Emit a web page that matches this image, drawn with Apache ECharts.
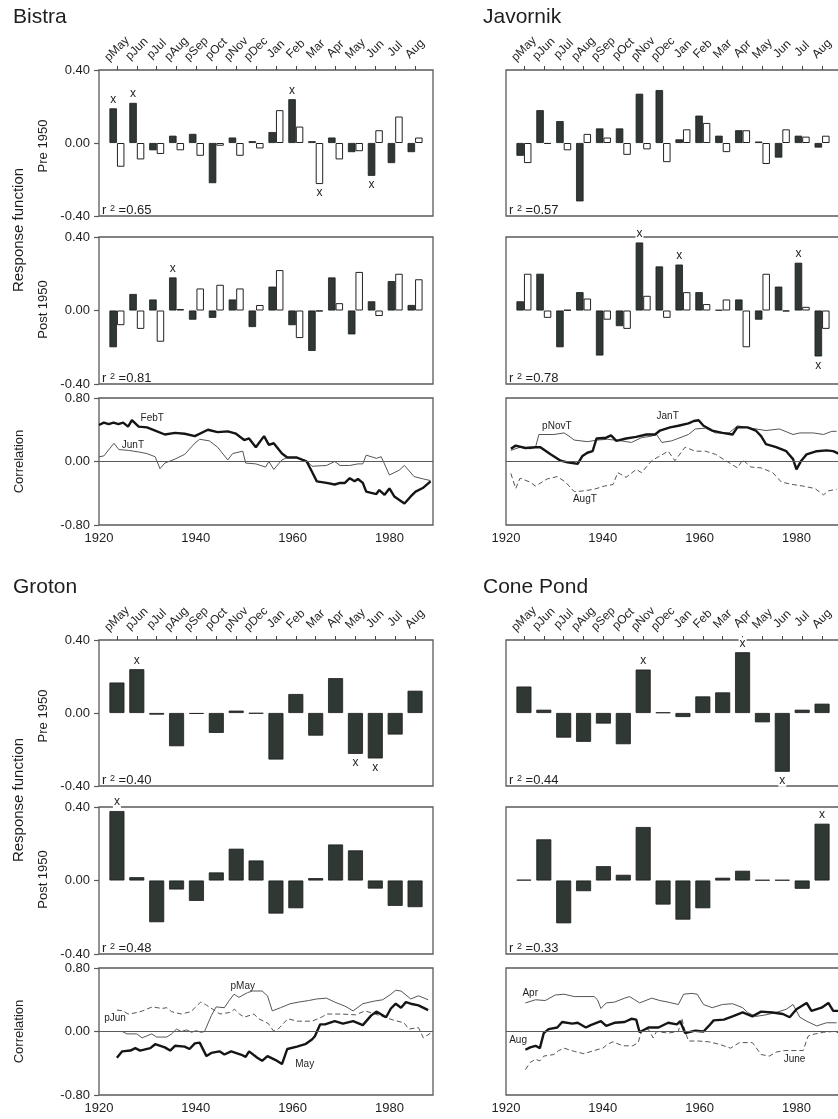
<!DOCTYPE html>
<html><head><meta charset="utf-8">
<script src="https://cdn.jsdelivr.net/npm/echarts@6/dist/echarts.min.js"></script>
<style>html,body{margin:0;padding:0;background:#fff}#c{width:838px;height:1119px}</style>
</head><body><div id="c"></div><script>
const months = ['pMay','pJun','pJul','pAug','pSep','pOct','pNov','pDec','Jan','Feb','Mar','Apr','May','Jun','Jul','Aug'];

// ---- Bistra ----
const bistraPreDark  = [0.19,0.22,-0.04,0.04,0.05,-0.22,0.03,0.01,0.06,0.24,0.01,0.03,-0.05,-0.18,-0.11,-0.05];
const bistraPreWhite = [-0.13,-0.09,-0.06,-0.04,-0.07,-0.015,-0.07,-0.03,0.18,0.09,-0.225,-0.09,-0.045,0.07,0.145,0.03];
const bistraPreSigDark = ['pMay','pJun','Feb','Jun'];
const bistraPreSigWhite = ['Mar'];
const bistraPostDark  = [-0.20,0.09,0.06,0.18,-0.05,-0.04,0.06,-0.09,0.13,-0.08,-0.22,0.18,-0.13,0.05,0.16,0.03];
const bistraPostWhite = [-0.08,-0.10,-0.17,0.008,0.12,0.14,0.12,0.03,0.22,-0.15,-0.005,0.04,0.21,-0.03,0.20,0.17];
const bistraPostSigDark = ['pAug'];
const bistraPostSigWhite = [];
const bistraR2 = ['0.65','0.81'];
const bistraFebT = [[1920,0.46],[1921,0.49],[1922,0.47],[1923,0.49],[1924,0.47],[1925,0.49],[1926,0.44],[1926.8,0.52],[1928.2,0.44],[1929.9,0.43],[1931.6,0.39],[1933.6,0.34],[1935.7,0.36],[1937.7,0.35],[1939.8,0.32],[1942.5,0.40],[1944.5,0.37],[1946.6,0.38],[1948.3,0.35],[1950,0.27],[1951,0.29],[1952.4,0.18],[1954.1,0.32],[1955.1,0.21],[1956.1,0.23],[1957.8,0.10],[1958.9,0.05],[1960.9,0.05],[1962.9,0.0],[1964,-0.13],[1965,-0.25],[1967,-0.27],[1968.7,-0.29],[1969.8,-0.27],[1970.8,-0.27],[1971.8,-0.21],[1972.8,-0.25],[1973.5,-0.22],[1974.5,-0.27],[1975.2,-0.38],[1977.3,-0.41],[1977.9,-0.36],[1979,-0.42],[1980,-0.34],[1981,-0.44],[1983.1,-0.53],[1984.4,-0.44],[1985.4,-0.38],[1987,-0.33],[1988.5,-0.25]];
const bistraJunT = [[1920,0.06],[1921,0.07],[1923.1,0.23],[1924.1,0.15],[1926.1,0.14],[1928.2,0.12],[1929.9,0.10],[1931.6,0.06],[1932.6,-0.09],[1933.6,-0.02],[1935.7,0.03],[1937.7,0.09],[1939.8,0.23],[1940.8,0.28],[1942.8,0.26],[1944.5,0.18],[1946.6,0.02],[1947.6,0.10],[1949.7,0.13],[1950.3,-0.02],[1952.4,-0.03],[1954.4,-0.07],[1955.1,0.0],[1956.1,-0.10],[1957.8,0.02],[1958.9,0.05],[1960.9,0.05],[1962.9,0.01],[1964,-0.06],[1967,-0.05],[1968.7,0.0],[1969.8,-0.05],[1971.8,-0.05],[1973.5,-0.03],[1974.5,-0.03],[1975.2,0.08],[1977.3,0.04],[1978.3,0.06],[1980,-0.17],[1982,-0.11],[1983.1,-0.05],[1985.1,-0.19],[1987,-0.22],[1988.5,-0.24]];
const bistraCorrNames = ['FebT','JunT'];
const bistraCorrLabelPos = [[1931,0.55],[1927,0.21]];

// ---- Javornik ----
const javornikPreDark  = [-0.07,0.18,0.12,-0.32,0.08,0.08,0.27,0.29,0.02,0.15,0.04,0.07,0.008,-0.08,0.04,-0.025];
const javornikPreWhite = [-0.11,-0.005,-0.04,0.05,0.03,-0.065,-0.035,-0.105,0.075,0.11,-0.05,0.07,-0.115,0.075,0.035,0.04];
const javornikPreSigDark = [];
const javornikPreSigWhite = [];
const javornikPostDark  = [0.05,0.20,-0.20,0.10,-0.245,-0.085,0.37,0.24,0.25,0.10,0.003,0.06,-0.05,0.13,0.26,-0.25];
const javornikPostWhite = [0.20,-0.04,0.003,0.065,-0.05,-0.10,0.08,-0.04,0.10,0.035,0.06,-0.20,0.20,-0.005,0.02,-0.10];
const javornikPostSigDark = ['pNov','Jan','Jul','Aug'];
const javornikPostSigWhite = [];
const javornikR2 = ['0.57','0.78'];
const javornikJanT = [[1921,0.16],[1922,0.20],[1924,0.17],[1926.1,0.18],[1927.1,0.18],[1929.2,0.09],[1931.3,0.01],[1932.7,-0.01],[1934.8,-0.03],[1935.8,0.07],[1936.8,0.11],[1937.9,0.13],[1938.7,0.29],[1940.7,0.30],[1941.7,0.33],[1942.8,0.26],[1944.8,0.29],[1946.9,0.31],[1949,0.34],[1950.8,0.34],[1951.8,0.39],[1953.9,0.43],[1955.6,0.45],[1957.7,0.48],[1958.8,0.51],[1959.8,0.52],[1960.8,0.45],[1962.6,0.39],[1964.7,0.36],[1966.8,0.34],[1967.8,0.43],[1969.9,0.43],[1971.6,0.39],[1972.7,0.32],[1973.7,0.22],[1975.8,0.18],[1977.9,0.13],[1979.3,0.03],[1980,-0.10],[1981,0.01],[1982.1,0.09],[1984.2,0.13],[1986.2,0.14],[1987.6,0.13],[1988.7,0.10]];
const javornikPNovT = [[1921,0.14],[1922.9,0.18],[1925,0.16],[1926.1,0.18],[1926.8,0.34],[1929.9,0.34],[1932,0.36],[1933,0.32],[1934.1,0.27],[1936.8,0.25],[1938.9,0.27],[1941,0.28],[1943.8,0.26],[1945.9,0.24],[1948,0.30],[1950.1,0.32],[1951.1,0.34],[1952.2,0.24],[1954.2,0.26],[1957.7,0.34],[1959.1,0.41],[1961.2,0.42],[1963.3,0.36],[1966.1,0.36],[1967.8,0.45],[1970.6,0.42],[1973.7,0.39],[1976.5,0.41],[1979.3,0.34],[1980.7,0.36],[1983.5,0.36],[1985.6,0.34],[1987.3,0.38],[1988.3,0.38]];
const javornikAugT = [[1921,-0.15],[1922,-0.34],[1922.9,-0.21],[1925,-0.26],[1926.1,-0.31],[1928.5,-0.22],[1930.6,-0.19],[1932.3,-0.26],[1934.1,-0.38],[1936.1,-0.37],[1938.2,-0.35],[1940.3,-0.31],[1942.1,-0.29],[1943.1,-0.14],[1944.8,-0.20],[1946.9,-0.10],[1948,-0.14],[1950.1,0.01],[1951.8,0.07],[1953.5,0.13],[1954.9,0.01],[1957,0.18],[1959.1,0.13],[1961.2,0.13],[1963.3,0.09],[1965.4,0.01],[1967.8,-0.08],[1968.9,0.02],[1970.6,-0.07],[1972.7,-0.08],[1975.1,-0.14],[1976.9,-0.26],[1979.3,-0.29],[1981.4,-0.31],[1983.8,-0.34],[1985.6,-0.42],[1986.6,-0.37],[1988.3,-0.35]];
const javornikCorrNames = ['JanT','pNovT','AugT'];
const javornikCorrLabelPos = [[1953.4,0.57],[1930.5,0.45],[1936.3,-0.47]];

// ---- Groton ----
const grotonPre = [0.167,0.24,-0.009,-0.182,-0.005,-0.109,0.013,-0.003,-0.255,0.104,-0.124,0.191,-0.224,-0.249,-0.118,0.122];
const grotonPreSig = ['pJun','May','Jun'];
const grotonPost = [0.378,0.018,-0.227,-0.049,-0.111,0.044,0.173,0.109,-0.18,-0.151,0.013,0.196,0.164,-0.044,-0.138,-0.145];
const grotonPostSig = ['pMay'];
const grotonR2 = ['0.40','0.48'];
const grotonMay = [[1923.7,-0.33],[1924.8,-0.25],[1926.5,-0.24],[1927.5,-0.21],[1928.5,-0.24],[1930.6,-0.21],[1931.6,-0.16],[1933.6,-0.20],[1934.7,-0.24],[1935.7,-0.18],[1937.7,-0.19],[1938.7,-0.22],[1939.8,-0.15],[1940.8,-0.14],[1942.2,-0.31],[1943.2,-0.27],[1944.9,-0.25],[1945.9,-0.29],[1947.3,-0.25],[1949.3,-0.29],[1950.3,-0.32],[1951,-0.25],[1952.7,-0.33],[1953.7,-0.37],[1954.8,-0.31],[1956.5,-0.36],[1957.8,-0.41],[1958.9,-0.22],[1960.9,-0.19],[1962.6,-0.16],[1964,-0.10],[1964.6,-0.06],[1965.7,0.09],[1966.7,0.09],[1968.7,0.13],[1970.4,0.10],[1972.5,0.13],[1974.5,0.08],[1976.2,0.20],[1977.3,0.25],[1979.3,0.18],[1980.3,0.29],[1981.3,0.35],[1982.4,0.30],[1983.4,0.37],[1984.4,0.35],[1986,0.33],[1988,0.27]];
const grotonPMay = [[1923.7,0.0],[1924.8,0.0],[1925.8,-0.03],[1927.8,-0.03],[1928.9,-0.08],[1930.9,-0.03],[1931.9,-0.07],[1934,-0.07],[1935,-0.03],[1936,0.03],[1937,0.0],[1938.1,0.02],[1939.1,-0.01],[1940.1,0.01],[1941.1,-0.01],[1941.8,0.0],[1943.2,0.20],[1944.2,0.31],[1945.9,0.30],[1946.9,0.39],[1947.9,0.47],[1948.9,0.43],[1950.7,0.49],[1951.7,0.51],[1953.7,0.51],[1954.8,0.45],[1955.8,0.26],[1957.5,0.30],[1959.5,0.35],[1961.2,0.37],[1963.3,0.39],[1965,0.41],[1967,0.42],[1968.7,0.37],[1970.8,0.32],[1972.5,0.26],[1974.5,0.35],[1976.6,0.38],[1978.6,0.40],[1980.3,0.47],[1981.3,0.52],[1982.4,0.51],[1984.4,0.41],[1986,0.45],[1988,0.40]];
const grotonPJun = [[1923.7,0.27],[1925,0.26],[1926,0.22],[1928,0.24],[1929,0.26],[1931,0.31],[1933,0.29],[1934,0.30],[1935,0.25],[1937,0.22],[1939,0.25],[1941,0.37],[1942,0.34],[1943,0.30],[1945,0.22],[1947,0.24],[1948,0.28],[1949,0.22],[1950,0.18],[1952,0.22],[1953,0.16],[1955,0.10],[1956,0.01],[1957,0.03],[1959,0.16],[1961,0.13],[1964,0.13],[1966,0.18],[1967,0.22],[1970,0.22],[1973,0.21],[1975,0.26],[1977,0.22],[1979,0.18],[1981,0.14],[1983,0.11],[1984,0.03],[1986,0.05],[1987,-0.08],[1988.5,-0.02]];
const grotonCorrNames = ['May','pMay','pJun'];
const grotonCorrLabelPos = [[1962.5,-0.41],[1949.7,0.57],[1923.3,0.17]];

// ---- Cone Pond ----
const conePre = [0.145,0.018,-0.135,-0.158,-0.058,-0.171,0.238,0.003,-0.022,0.091,0.113,0.333,-0.051,-0.322,0.018,0.051];
const conePreSig = ['pNov','Apr','Jun'];
const conePost = [0.004,0.224,-0.233,-0.058,0.078,0.031,0.291,-0.131,-0.213,-0.151,0.015,0.053,0.003,0.003,-0.045,0.309];
const conePostSig = ['Aug'];
const coneR2 = ['0.44','0.33'];
const coneAug = [[1924,-0.23],[1925,-0.20],[1926.1,-0.18],[1927,-0.21],[1927.8,-0.02],[1928.8,0.03],[1930.6,0.05],[1931.6,0.12],[1933.7,0.10],[1934.8,0.11],[1936.5,0.05],[1937.5,0.08],[1939.6,0.13],[1940.7,0.07],[1942.4,0.11],[1944.5,0.12],[1945.9,0.16],[1946.9,0.15],[1947.6,-0.01],[1949.4,0.05],[1951.5,0.05],[1953.5,0.11],[1955.3,0.09],[1956,0.13],[1957,-0.02],[1959.1,0.01],[1960.8,0.0],[1961.9,0.07],[1962.9,0.14],[1965,0.15],[1966.8,0.19],[1968.9,0.24],[1970.9,0.19],[1972.7,0.25],[1975.1,0.24],[1977.2,0.22],[1978.6,0.18],[1980,0.28],[1982.1,0.36],[1983.1,0.26],[1985.2,0.30],[1986.6,0.36],[1987.6,0.26],[1989,0.26]];
const coneApr = [[1924,0.36],[1926.1,0.40],[1928.1,0.39],[1930.2,0.46],[1932,0.47],[1934.1,0.44],[1936.1,0.44],[1938.2,0.44],[1938.9,0.40],[1939.6,0.29],[1940.7,0.36],[1942.4,0.37],[1944.5,0.42],[1945.5,0.44],[1946.6,0.40],[1947.6,0.36],[1950.1,0.42],[1951.8,0.39],[1953.5,0.37],[1955.6,0.34],[1956.7,0.47],[1958.4,0.48],[1959.5,0.47],[1960.8,0.34],[1962.6,0.30],[1964.7,0.34],[1966.8,0.35],[1968.9,0.30],[1969.9,0.24],[1971.6,0.19],[1973.7,0.21],[1975.8,0.24],[1977.9,0.28],[1979.3,0.34],[1980.7,0.18],[1982.1,0.13],[1984.2,0.07],[1986.2,0.11],[1988.3,0.11]];
const coneJune = [[1924,-0.48],[1925,-0.39],[1926.1,-0.35],[1927,-0.37],[1927.8,-0.31],[1929.9,-0.29],[1930.9,-0.24],[1932,-0.21],[1934.1,-0.25],[1936.1,-0.28],[1938.2,-0.24],[1940,-0.21],[1941,-0.16],[1942.1,-0.13],[1944.1,-0.18],[1946.2,-0.18],[1947.3,-0.14],[1948,0.0],[1949.4,0.03],[1950.4,-0.08],[1951.1,0.0],[1953.5,-0.02],[1955.6,0.0],[1956.3,0.17],[1957,0.0],[1957.7,-0.12],[1959.8,-0.12],[1961.9,-0.13],[1964,-0.16],[1966.4,-0.21],[1968.2,-0.14],[1970.9,-0.14],[1972.7,-0.29],[1974.4,-0.31],[1975.8,-0.26],[1977.6,-0.24],[1979.3,-0.24],[1981.4,-0.24],[1982.4,-0.06],[1983.1,-0.04],[1985.6,-0.01],[1987.6,0.0],[1989,-0.02]];
const coneCorrNames = ['Aug','Apr','June'];
const coneCorrLabelPos = [[1922.5,-0.11],[1925,0.48],[1979.6,-0.35]];

// ---------------- layout helpers ----------------
const FONT = "'Liberation Sans', Arial, Helvetica, sans-serif";
const TXT = '#1e1e1e';
const FRAME = '#5a5a5a';
const DARK = '#2f3833';
const colX = [99, 506];
const titleX = [13, 483];
const rowY = [0, 570];
const FW = 334, INSET = 8, DW = 318;
const PRE = [70, 146], POST = [237, 147], CORR = [398, 127];

const grids = [], xAxes = [], yAxes = [], series = [], graphics = [];
function addGrid(g) { grids.push(Object.assign({containLabel:false, outerBoundsMode:'none'}, g)); return grids.length - 1; }
const f2 = v => (Math.abs(v) < 1e-9 ? 0 : v).toFixed(2);

function barData(vals, sig) {
  return vals.map((v, i) => sig.indexOf(months[i]) >= 0
    ? {value: v, label: {show: true, position: v >= 0 ? 'top' : 'bottom', distance: 3, formatter: 'x',
        fontSize: 12, color: TXT, fontFamily: FONT, backgroundColor: '#fff', padding: [0, 1]}}
    : v);
}

function frameGrid(x, top, h, col, range, interval) {
  const gi = addGrid({left: x, top: top, width: FW, height: h, show: true, borderColor: FRAME, borderWidth: 1.3, backgroundColor: 'transparent'});
  xAxes.push({gridIndex: gi, type: 'value', show: false, min: 0, max: 1});
  yAxes.push({gridIndex: gi, type: 'value', min: -range, max: range, interval: interval,
    axisLine: {show: false}, splitLine: {show: false},
    axisTick: {show: col === 0, length: 5, lineStyle: {color: FRAME, width: 1.2}},
    axisLabel: {show: col === 0, formatter: f2, fontSize: 13, color: TXT, fontFamily: FONT, margin: 9}});
  return gi;
}

function barPanel(x, top, h, withMonths, darkVals, whiteVals, sigDark, sigWhite) {
  const gd = addGrid({left: x + INSET, top: top, width: DW, height: h});
  xAxes.push({gridIndex: gd, type: 'category', data: months, position: 'top',
    axisLine: {show: false, onZero: false}, splitLine: {show: false},
    axisTick: {show: withMonths, alignWithLabel: true, length: 4, lineStyle: {color: '#444'}},
    axisLabel: {show: withMonths, interval: 0, rotate: -45, align: 'center', verticalAlign: 'middle', margin: 21,
      fontSize: 12, color: TXT, fontFamily: FONT}});
  yAxes.push({gridIndex: gd, type: 'value', min: -0.4, max: 0.4, show: false});
  if (whiteVals) {
    series.push({type: 'bar', xAxisIndex: gd, yAxisIndex: gd, data: barData(darkVals, sigDark), barWidth: 7.5, barGap: '0%',
      itemStyle: {color: DARK, borderColor: '#1c1c1c', borderWidth: 0.8}, z: 3});
    series.push({type: 'bar', xAxisIndex: gd, yAxisIndex: gd, data: barData(whiteVals, sigWhite), barWidth: 7.5, barGap: '0%',
      itemStyle: {color: '#fff', borderColor: '#222', borderWidth: 1}, z: 3});
  } else {
    series.push({type: 'bar', xAxisIndex: gd, yAxisIndex: gd, data: barData(darkVals, sigDark), barWidth: 15,
      itemStyle: {color: DARK, borderColor: '#1c1c1c', borderWidth: 0.8}, z: 3});
  }
}

function r2Text(x, bottomY, val) {
  graphics.push({type: 'text', x: x, y: bottomY, z: 10, style: {
    text: 'r {s|2} =' + val, fill: TXT, font: '13px ' + FONT, fontSize: 13, fontFamily: FONT,
    align: 'left', textAlign: 'left', verticalAlign: 'bottom', textVerticalAlign: 'bottom',
    rich: {s: {fontSize: 9, fontFamily: FONT, fill: TXT, verticalAlign: 'top', lineHeight: 9}}}});
}

function vText(x, y, text, size) {
  graphics.push({type: 'text', x: x, y: y, rotation: Math.PI / 2, style: {
    text: text, fill: TXT, font: size + 'px ' + FONT, fontSize: size, fontFamily: FONT,
    align: 'center', textAlign: 'center', verticalAlign: 'middle', textVerticalAlign: 'middle'}});
}

const STY = {
  thick: {color: '#151515', width: 2.4, type: 'solid'},
  thin: {color: '#555', width: 1, type: 'solid'},
  dash: {color: '#555', width: 1, type: [5, 3]}
};

function corrPanel(x, top, col, lines) {
  const gc = addGrid({left: x, top: top, width: FW, height: CORR[1], show: true, borderColor: FRAME, borderWidth: 1.3, backgroundColor: 'transparent'});
  xAxes.push({gridIndex: gc, type: 'value', min: 1920, max: 1989, interval: 20,
    axisLine: {show: false, onZero: false}, axisTick: {show: false}, splitLine: {show: false},
    axisLabel: {fontSize: 13, color: TXT, fontFamily: FONT, margin: 7, showMaxLabel: false, showMinLabel: true,
      formatter: v => String(Math.round(v))}});
  yAxes.push({gridIndex: gc, type: 'value', min: -0.8, max: 0.8, interval: 0.8,
    axisLine: {show: false}, splitLine: {show: false},
    axisTick: {show: col === 0, length: 5, lineStyle: {color: FRAME, width: 1.2}},
    axisLabel: {show: col === 0, formatter: f2, fontSize: 13, color: TXT, fontFamily: FONT, margin: 9}});
  lines.forEach((ln, k) => {
    const s = {type: 'line', xAxisIndex: gc, yAxisIndex: gc, data: ln.data, symbol: 'none', showSymbol: false,
      lineStyle: STY[ln.style], z: ln.style === 'thick' ? 4 : 3,
      markPoint: {silent: true, symbol: 'rect', symbolSize: [1, 1], itemStyle: {color: 'rgba(0,0,0,0)'},
        label: {show: true, position: 'inside', formatter: ln.name, fontSize: 10, color: TXT, fontFamily: FONT},
        data: [{coord: ln.labelPos}]}};
    if (k === 0) {
      s.markLine = {silent: true, symbol: ['none', 'none'], label: {show: false}, animation: false,
        lineStyle: {color: FRAME, width: 1.1, type: 'solid'}, data: [{yAxis: 0}]};
    }
    series.push(s);
  });
}

const panels = [
  {name: 'Bistra', col: 0, row: 0, pre: [bistraPreDark, bistraPreWhite, bistraPreSigDark, bistraPreSigWhite],
   post: [bistraPostDark, bistraPostWhite, bistraPostSigDark, bistraPostSigWhite], r2: bistraR2,
   lines: [{data: bistraFebT, style: 'thick'}, {data: bistraJunT, style: 'thin'}], names: bistraCorrNames, lp: bistraCorrLabelPos},
  {name: 'Javornik', col: 1, row: 0, pre: [javornikPreDark, javornikPreWhite, javornikPreSigDark, javornikPreSigWhite],
   post: [javornikPostDark, javornikPostWhite, javornikPostSigDark, javornikPostSigWhite], r2: javornikR2,
   lines: [{data: javornikJanT, style: 'thick'}, {data: javornikPNovT, style: 'thin'}, {data: javornikAugT, style: 'dash'}], names: javornikCorrNames, lp: javornikCorrLabelPos},
  {name: 'Groton', col: 0, row: 1, pre: [grotonPre, null, grotonPreSig, []], post: [grotonPost, null, grotonPostSig, []], r2: grotonR2,
   lines: [{data: grotonMay, style: 'thick'}, {data: grotonPMay, style: 'thin'}, {data: grotonPJun, style: 'dash'}], names: grotonCorrNames, lp: grotonCorrLabelPos},
  {name: 'Cone Pond', col: 1, row: 1, pre: [conePre, null, conePreSig, []], post: [conePost, null, conePostSig, []], r2: coneR2,
   lines: [{data: coneAug, style: 'thick'}, {data: coneApr, style: 'thin'}, {data: coneJune, style: 'dash'}], names: coneCorrNames, lp: coneCorrLabelPos}
];

panels.forEach(p => {
  const X = colX[p.col], Y = rowY[p.row];
  graphics.push({type: 'text', x: titleX[p.col], y: Y + 17, style: {text: p.name, fill: TXT, font: '21px ' + FONT, fontSize: 21, fontFamily: FONT,
    align: 'left', textAlign: 'left', verticalAlign: 'middle', textVerticalAlign: 'middle'}});
  frameGrid(X, Y + PRE[0], PRE[1], p.col, 0.4, 0.4);
  barPanel(X, Y + PRE[0], PRE[1], true, p.pre[0], p.pre[1], p.pre[2], p.pre[3]);
  r2Text(X + 3, Y + PRE[0] + PRE[1] + 1, p.r2[0]);
  frameGrid(X, Y + POST[0], POST[1], p.col, 0.4, 0.4);
  barPanel(X, Y + POST[0], POST[1], false, p.post[0], p.post[1], p.post[2], p.post[3]);
  r2Text(X + 3, Y + POST[0] + POST[1] + 1, p.r2[1]);
  corrPanel(X, Y + CORR[0], p.col, p.lines.map((l, i) => Object.assign({name: p.names[i], labelPos: p.lp[i]}, l)));
  if (p.col === 0) {
    vText(43, Y + PRE[0] + PRE[1] / 2 + 3, 'Pre 1950', 13);
    vText(43, Y + POST[0] + POST[1] / 2 - 1, 'Post 1950', 13);
    vText(19, Y + 230, 'Response function', 15);
    vText(19, Y + CORR[0] + CORR[1] / 2, 'Correlation', 13);
  }
});

const chart = echarts.init(document.getElementById('c'), null, {renderer: 'canvas', width: 838, height: 1119});
chart.setOption({
  animation: false,
  backgroundColor: '#fff',
  textStyle: {fontFamily: FONT},
  grid: grids, xAxis: xAxes, yAxis: yAxes, series: series, graphic: graphics
});
</script></body></html>
